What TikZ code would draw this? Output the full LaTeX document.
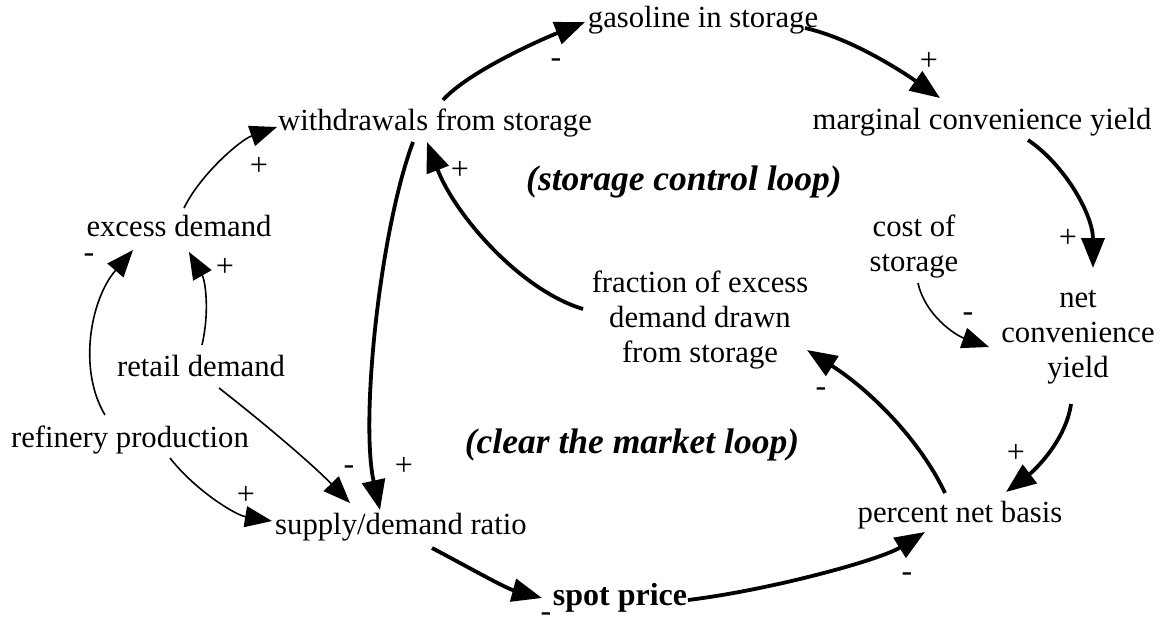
\documentclass[tikz,border=0pt]{standalone}
\usepackage{fontspec}
\setmainfont{Liberation Serif}
\usetikzlibrary{arrows.meta}
\begin{document}
\begin{tikzpicture}[x=1pt,y=1pt,
  var/.style={inner sep=0pt,text height=21pt,text depth=7pt,
    font=\fontsize{30.7}{35}\selectfont},
  mvar/.style={inner sep=0pt,align=center,
    font=\fontsize{30.7}{35}\selectfont},
  loopname/.style={inner sep=0pt,font=\fontsize{35.5}{40}\selectfont\bfseries\itshape},
  sign/.style={inner sep=0pt,font=\fontsize{32}{36}\selectfont},
  heavy/.style={line width=3.8pt,-{Triangle[length=30pt,width=23pt]}},
  light/.style={line width=1.6pt,-{Triangle[length=27pt,width=21pt]}}]
\useasboundingbox (0,0) rectangle (1164,-624);

% variables
\node[var] (gas)  at (703,-20)  {gasoline in storage};
\node[var] (wd)   at (435,-123) {withdrawals from storage};
\node[var] (mcy)  at (982,-122) {marginal convenience yield};
\node[var] (exd)  at (179,-229) {excess demand};
\node[mvar] (cos) at (914,-247) {cost of\\storage};
\node[mvar] (ncy) at (1078,-337) {net\\convenience\\yield};
\node[mvar] (frac) at (700,-320) {fraction of excess\\demand drawn\\from storage};
\node[var] (rd)   at (201,-369) {retail demand};
\node[var] (rp)   at (130,-440) {refinery production};
\node[var] (sdr)  at (401,-527) {supply/demand ratio};
\node[var] (pnb)  at (960,-515) {percent net basis};
\node[var,font=\fontsize{32}{36}\selectfont\bfseries] (spot) at (620,-598) {spot price};

% loop names
\node[loopname] (scl) at (684,-182) {(storage control loop)};
\node[loopname] (cml) at (632,-445) {(clear the market loop)};

% storage control loop
\draw[heavy] ([shift={(8,23)}]wd.center) .. controls (468,-72) and (540,-40) .. ([shift={(-118,-2)}]gas.center);
\draw[heavy] ([shift={(102,-8)}]gas.center) .. controls (850,-38) and (900,-70) .. ([shift={(-42,24)}]mcy.center);
\draw[heavy] ([shift={(46,-18)}]mcy.center) .. controls (1065,-165) and (1093,-215) .. ([shift={(15,69)}]ncy.center);
\draw[heavy] ([shift={(-7,-67)}]ncy.center) .. controls (1066,-440) and (1035,-470) .. ([shift={(46,23)}]pnb.center);
\draw[heavy] ([shift={(-15,22)}]pnb.center) .. controls (920,-440) and (870,-390) .. ([shift={(107,-30)}]frac.center);
\draw[heavy] ([shift={(-117,11)}]frac.center) .. controls (520,-290) and (455,-215) .. ([shift={(-8,-19)}]wd.center);

% clear the market loop
\draw[heavy] ([shift={(-22,-19)}]wd.center) .. controls (380,-230) and (360,-420) .. ([shift={(-21,17)}]sdr.center);
\draw[heavy] ([shift={(31,-21)}]sdr.center) .. controls (470,-568) and (505,-588) .. ([shift={(-78,0)}]spot.center);
\draw[heavy] ([shift={(68,-2)}]spot.center) .. controls (770,-590) and (880,-560) .. ([shift={(-35,-17)}]pnb.center);

% exogenous inputs
\draw[light] ([shift={(5,21)}]exd.center) .. controls (200,-175) and (240,-140) .. ([shift={(-158,-4)}]wd.center);
\draw[light] ([shift={(-25,25)}]rp.center) .. controls (78,-370) and (90,-300) .. ([shift={(-46,-21)}]exd.center);
\draw[light] ([shift={(1,24)}]rd.center) .. controls (210,-310) and (205,-280) .. ([shift={(10,-23)}]exd.center);
\draw[light] ([shift={(18,-19)}]rd.center) .. controls (260,-420) and (310,-462) .. ([shift={(-51,24)}]sdr.center);
\draw[light] ([shift={(40,-18)}]rp.center) .. controls (195,-490) and (235,-515) .. ([shift={(-129,6)}]sdr.center);
\draw[light] ([shift={(4,-36)}]cos.center) .. controls (925,-315) and (955,-335) .. ([shift={(-89,-10)}]ncy.center);

% polarity signs
\node[sign] (s1)  at (556,-63)  {-};
\node[sign] (s2)  at (929,-61)  {+};
\node[sign] (s3)  at (1068,-238) {+};
\node[sign] (s4)  at (1016,-453) {+};
\node[sign] (s5)  at (821,-392) {-};
\node[sign] (s6)  at (460,-170) {+};
\node[sign] (s7)  at (404,-466) {+};
\node[sign] (s8)  at (546,-617) {-};
\node[sign] (s9)  at (907,-577) {-};
\node[sign] (s10) at (259,-166) {+};
\node[sign] (s11) at (89,-258)  {-};
\node[sign] (s12) at (225,-267) {+};
\node[sign] (s13) at (349,-470) {-};
\node[sign] (s14) at (246,-495) {+};
\node[sign] (s15) at (968,-317) {-};
\end{tikzpicture}
\end{document}
